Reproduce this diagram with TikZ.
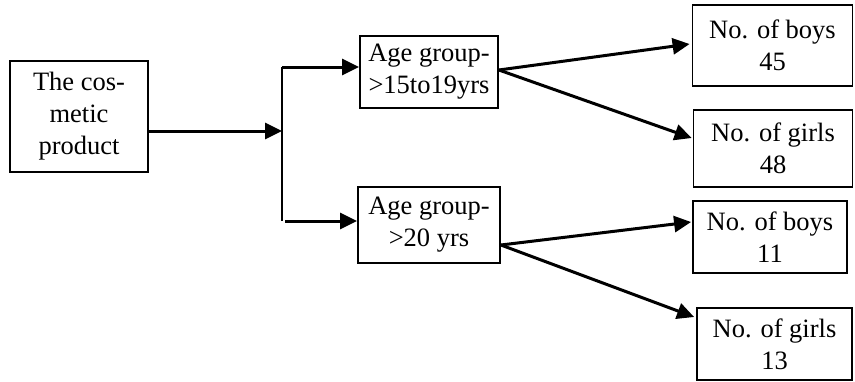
\documentclass[tikz,border=0pt]{standalone}
\usepackage{fontspec}
\setmainfont{Liberation Serif}
\usetikzlibrary{arrows.meta,calc}
\begin{document}
\begin{tikzpicture}[x=1pt,y=-1pt,
  box/.style={draw,line width=1.8pt,align=center,inner sep=0pt,
    font=\fontsize{26.5}{32}\selectfont},
  conn/.style={line width=3pt},
  arr/.style={conn,-{Triangle[length=17pt,width=16pt]}}]
\useasboundingbox (0,0) rectangle (855,381);
\node[box,minimum width=138pt,minimum height=111pt] (prod) at (79,116.5) {The cos-\\metic\\product};
\node[box,minimum width=138pt,minimum height=72pt] (age1) at (429,72) {Age group-\\>15to19yrs};
\node[box,minimum width=142pt,minimum height=76pt] (age2) at (429,225) {Age group-\\>20 yrs};
\node[box,minimum width=160pt,minimum height=81pt] (boys1) at (772.5,45.5) {No. of boys\\45};
\node[box,minimum width=159pt,minimum height=77pt] (girls1) at (773,148.5) {No. of girls\\48};
\node[box,minimum width=154pt,minimum height=72pt] (boys2) at (770,237) {No. of boys\\11};
\node[box,minimum width=155pt,minimum height=72pt] (girls2) at (774.5,344) {No. of girls\\13};
\coordinate (split) at (282,131);
\coordinate (top) at (282,67);
\coordinate (bot) at (282,221);
\coordinate (botstart) at (285,221);
\draw[arr] ($(prod.east)+(0,14.5)$) -- (split);
\draw[line width=2pt] (top) -- (bot);
\draw[arr] (top) -- (age1.west |- top);
\draw[arr] (botstart) -- (age2.west |- botstart);
\draw[arr] ($(age1.east)+(0,-2)$) -- ($(boys1.west)+(-2,-1.5)$);
\draw[arr] ($(age1.east)+(0,-2)$) -- ($(girls1.west)+(-1,-10.5)$);
\draw[arr] ($(age2.east)+(0,20)$) -- ($(boys2.west)+(-1,-15)$);
\draw[arr] ($(age2.east)+(0,20)$) -- ($(girls2.west)+(-2,-27)$);
\end{tikzpicture}
\end{document}
